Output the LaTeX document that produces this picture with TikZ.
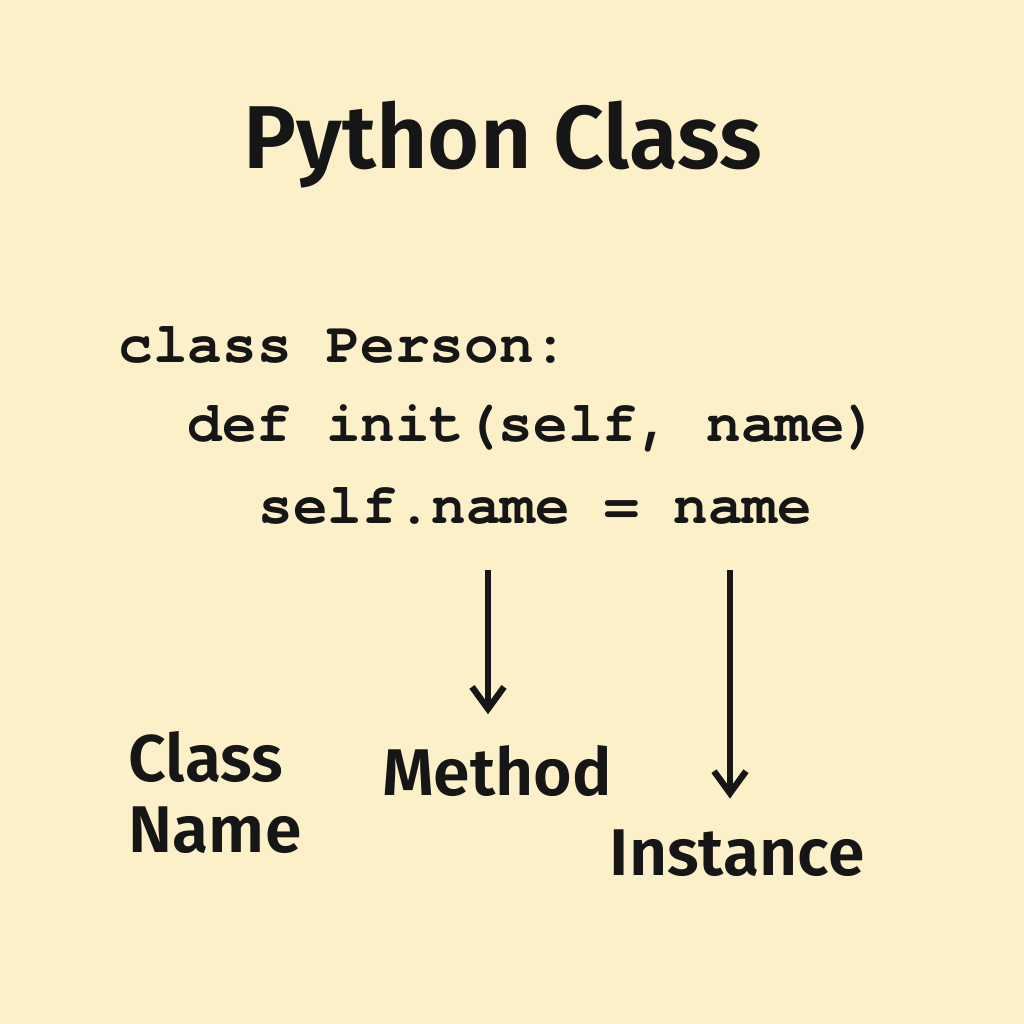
\documentclass[tikz,border=0pt]{standalone}
\usepackage{fontspec}
\setmainfont{Fira Sans}
\newfontfamily\lblfont{Fira Sans SemiBold}
\newfontfamily\codefont{TeX Gyre Cursor}
\usetikzlibrary{positioning, arrows.meta}
\definecolor{paper}{HTML}{FCF0C8}
\definecolor{ink}{HTML}{161616}
\tikzset{
  code/.style={anchor=base west, inner sep=0pt, text=ink,
    font=\codefont\bfseries\fontsize{16.4}{18}\selectfont},
  lbl/.style={inner sep=0pt, text=ink, font=\lblfont\fontsize{18.8}{20.2}\selectfont},
  ptr/.style={->, line width=1.8pt, draw=ink, shorten >=3mm}
}
\begin{document}
\begin{tikzpicture}[>={Straight Barb[length=2.2mm,width=3.2mm]}]
\fill[paper] (0,0) rectangle (10.24,-10.24);
\useasboundingbox (0,0) rectangle (10.24,-10.24);

\node[lbl, anchor=base, font=\lblfont\fontsize{25.4}{28}\selectfont] (title) at (5.03,-1.68) {Python Class};

% code lines
\node[code] (code1) at (1.18,-3.62) {class Person:};
\node[code] (code2) at (1.87,-4.41) {def init(self, name)};
\node[code] (code3) at (2.58,-5.23) {self.name = name};

% labels
\node[lbl, anchor=north west, align=left] (clsname) at (1.28,-7.31) {Class\\Name};
\node[lbl, anchor=base] (method) at (4.97,-7.95) {Method};
\node[lbl, anchor=base] (inst) at (7.37,-8.75) {Instance};

\coordinate (m0) at (4.88,-5.70);
\coordinate (i0) at (7.30,-5.70);
\draw[ptr] (m0) -- (m0 |- method.north);
\draw[ptr] (i0) -- (i0 |- inst.north);
\end{tikzpicture}
\end{document}
